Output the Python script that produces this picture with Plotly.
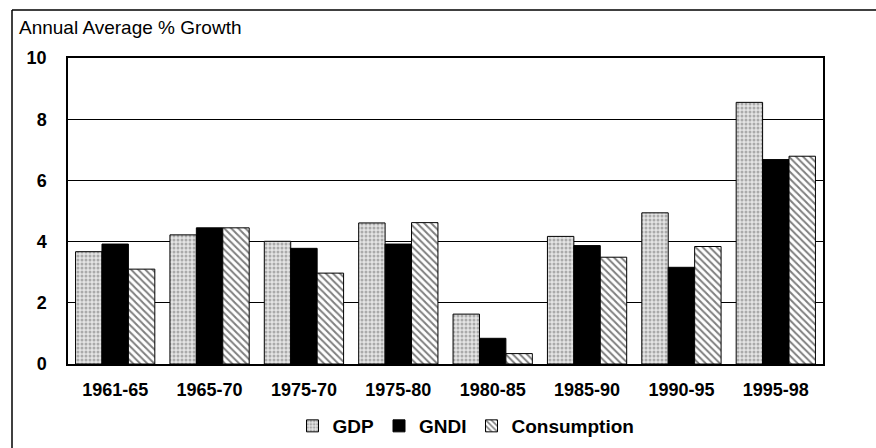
import plotly.graph_objects as go

categories = ["1961-65", "1965-70", "1975-70", "1975-80", "1980-85", "1985-90", "1990-95", "1995-98"]
gdp = [3.67, 4.22, 4.01, 4.61, 1.63, 4.17, 4.94, 8.55]
gndi = [3.92, 4.45, 3.78, 3.92, 0.84, 3.87, 3.16, 6.68]
consumption = [3.10, 4.45, 2.97, 4.62, 0.34, 3.49, 3.84, 6.79]
y_ticks = [0, 2, 4, 6, 8, 10]

W, H = 876, 448
L, R, T, B = 68, 53, 58, 84
pw, ph = W - L - R, H - T - B

def px(x):
    return (x - L) / pw

def py(y):
    return (H - B - y) / ph

fig = go.Figure()
fig.add_trace(go.Bar(
    name="GDP", x=categories, y=gdp,
    marker=dict(color="#d8d8d8", line=dict(color="black", width=1),
                pattern=dict(shape=".", fgcolor="#707070", bgcolor="#e4e4e4", size=4, solidity=0.45)),
))
fig.add_trace(go.Bar(
    name="GNDI", x=categories, y=gndi,
    marker=dict(color="black", line=dict(color="black", width=1)),
))
fig.add_trace(go.Bar(
    name="Consumption", x=categories, y=consumption,
    marker=dict(color="white", line=dict(color="black", width=1),
                pattern=dict(shape="\\", fgcolor="black", bgcolor="white", size=5, solidity=0.4)),
))

font_family = "Liberation Sans, Arial, sans-serif"

fig.update_layout(
    width=W, height=H,
    margin=dict(l=L, r=R, t=T, b=B, autoexpand=False),
    paper_bgcolor="white", plot_bgcolor="white",
    barmode="group", bargap=0.16, bargroupgap=0,
    font=dict(family=font_family, color="black"),
    showlegend=True,
    legend=dict(orientation="h", x=px(466), xanchor="center", y=py(426), yanchor="middle",
                font=dict(size=19, family=font_family, weight="bold"),
                traceorder="normal"),
    xaxis=dict(showline=True, linecolor="black", linewidth=1.5, mirror=True,
               ticks="", tickfont=dict(size=18, weight="bold"), ticklabelstandoff=9),
    yaxis=dict(range=[0, 10], tickvals=y_ticks, showline=True, linecolor="black", linewidth=1.5,
               mirror=True, showgrid=True, gridcolor="black", gridwidth=1, zeroline=False,
               ticks="", tickfont=dict(size=18, weight="bold"), ticklabelstandoff=16),
    annotations=[dict(text="Annual Average % Growth", xref="paper", yref="paper",
                      x=px(17), y=py(28), xanchor="left", yanchor="middle", showarrow=False,
                      font=dict(size=19, family=font_family))],
    shapes=[
        dict(type="line", xref="paper", yref="paper", x0=px(12), x1=px(12), y0=py(10), y1=py(448),
             line=dict(color="black", width=1.5)),
        dict(type="line", xref="paper", yref="paper", x0=px(12), x1=px(876), y0=py(10), y1=py(10),
             line=dict(color="black", width=1.5)),
    ],
)

fig.write_html("out.html", config={"displayModeBar": False},
               post_script="document.body.style.margin='0';")
